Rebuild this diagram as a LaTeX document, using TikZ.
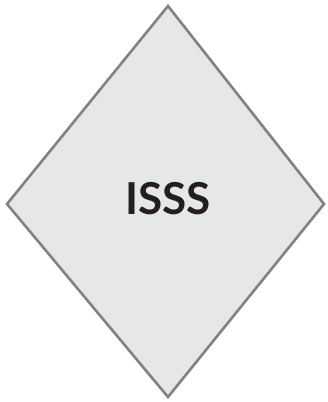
\documentclass[tikz,border=0pt]{standalone}
\usepackage{fontspec}
\setmainfont{Lato}
\definecolor{dfill}{HTML}{E6E7E8}
\definecolor{dline}{HTML}{808285}
\definecolor{dtext}{HTML}{231F20}
\begin{document}
\begin{tikzpicture}[x=1pt,y=-1pt,
  dshape/.style={draw=dline,fill=dfill,line width=2.6pt,line join=miter}]
\useasboundingbox (0,0) rectangle (327,402);
\coordinate (t) at (168,6);
\coordinate (l) at (7,204);
\coordinate (b) at (168,397);
\coordinate (r) at (324,204);
\draw[dshape] (t) -- (r) -- (b) -- (l) -- cycle;
\node[text=dtext,font=\fontsize{44}{44}\bfseries] (lab) at (168,199) {ISSS};
\end{tikzpicture}
\end{document}
